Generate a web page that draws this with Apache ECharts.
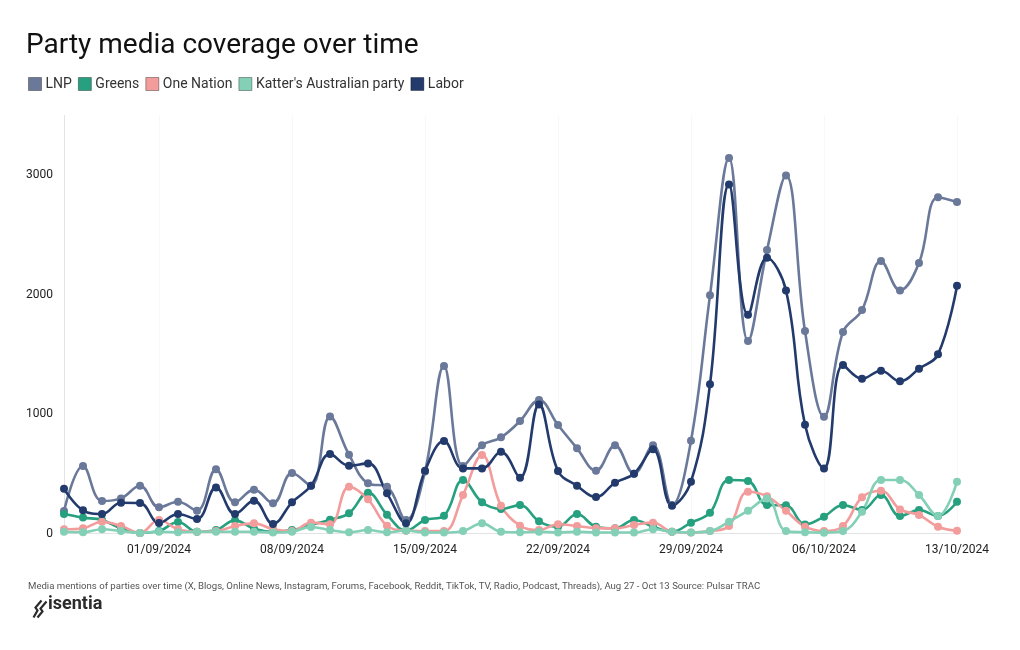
<!DOCTYPE html>
<html>
<head>
<meta charset="utf-8">
<script src="https://cdn.jsdelivr.net/npm/echarts@6/dist/echarts.min.js"></script>
<style>html,body{margin:0;padding:0;background:#fff}#c{width:1020px;height:650px}</style>
</head>
<body>
<div id="c"></div>
<script>
// Dates Aug 27 - Oct 13, 2024
const categories = ["27/08/2024","28/08/2024","29/08/2024","30/08/2024","31/08/2024","01/09/2024","02/09/2024","03/09/2024","04/09/2024","05/09/2024","06/09/2024","07/09/2024","08/09/2024","09/09/2024","10/09/2024","11/09/2024","12/09/2024","13/09/2024","14/09/2024","15/09/2024","16/09/2024","17/09/2024","18/09/2024","19/09/2024","20/09/2024","21/09/2024","22/09/2024","23/09/2024","24/09/2024","25/09/2024","26/09/2024","27/09/2024","28/09/2024","29/09/2024","30/09/2024","01/10/2024","02/10/2024","03/10/2024","04/10/2024","05/10/2024","06/10/2024","07/10/2024","08/10/2024","09/10/2024","10/10/2024","11/10/2024","12/10/2024","13/10/2024"];

const lnp = [188,565,272,294,400,219,266,191,537,261,367,253,506,400,980,660,420,392,113,520,1402,565,738,805,942,1117,908,713,525,738,501,738,238,777,1994,3145,1611,2373,2998,1695,978,1687,1871,2281,2035,2264,2816,2775];
const greens = [163,133,113,43,5,20,96,15,30,110,40,15,29,71,116,169,342,157,25,113,149,448,261,205,238,102,57,163,57,43,113,57,15,91,174,448,440,238,236,75,141,238,197,322,146,197,146,266];
const oneNation = [35,43,99,63,5,113,35,15,20,63,85,35,20,91,77,392,286,65,25,21,21,322,657,233,65,29,77,63,45,43,71,91,15,8,20,63,350,311,190,57,21,63,303,358,202,155,57,23];
const katter = [15,10,35,21,5,15,10,15,15,15,15,8,15,55,29,10,29,10,25,8,8,21,85,15,10,15,8,15,8,8,8,35,15,8,20,99,191,294,20,10,7,21,183,448,448,322,146,434];
const labor = [375,194,163,258,255,88,163,121,386,163,275,80,261,400,665,568,587,336,85,526,774,545,545,685,467,1081,523,400,305,425,501,705,233,434,1249,2923,1832,2309,2035,911,545,1410,1296,1363,1274,1380,1500,2074];

const yTicks = [0, 1000, 2000, 3000];

const seriesDefs = [
  {name: "LNP", data: lnp, color: "#6a7899"},
  {name: "Greens", data: greens, color: "#26a07f"},
  {name: "One Nation", data: oneNation, color: "#f39c9c"},
  {name: "Katter's Australian party", data: katter, color: "#83d0b7"},
  {name: "Labor", data: labor, color: "#233a6c"}
];

const chart = echarts.init(document.getElementById('c'), null, {renderer: 'canvas'});
const font = 'Roboto, "Noto Sans", sans-serif';
const labelEvery = (i) => i >= 5 && (i - 5) % 7 === 0;

chart.setOption({
  animation: false,
  backgroundColor: '#ffffff',
  textStyle: {fontFamily: font},
  title: {
    text: 'Party media coverage over time',
    left: 26, top: 32, padding: 0,
    textStyle: {fontSize: 28, fontWeight: 'normal', color: '#111', fontFamily: font}
  },
  legend: {
    left: 28, top: 77, padding: 0,
    icon: 'rect', itemWidth: 13, itemHeight: 13, itemGap: 6,
    textStyle: {fontSize: 14, color: '#333', fontFamily: font, padding: [0, 0, 0, -1]},
    data: seriesDefs.map(s => ({name: s.name, itemStyle: {color: s.color, borderColor: 'rgba(0,0,0,0.35)', borderWidth: 1}}))
  },
  grid: {left: 64, right: 63, top: 115.5, bottom: 116.5, containLabel: false},
  xAxis: {
    type: 'category',
    data: categories,
    boundaryGap: false,
    axisLine: {show: true, lineStyle: {color: '#e3e3e3'}},
    axisTick: {show: false},
    splitLine: {show: true, interval: labelEvery, lineStyle: {color: '#f8f8f8'}},
    axisLabel: {
      interval: labelEvery,
      color: '#222', fontSize: 12, margin: 10, fontFamily: font
    }
  },
  yAxis: {
    type: 'value',
    min: 0, max: 3500, interval: 1000,
    axisLine: {show: true, lineStyle: {color: '#e3e3e3'}},
    axisTick: {show: false},
    splitLine: {show: false},
    axisLabel: {
      color: '#222', fontSize: 12, margin: 11, fontFamily: font,
      showMaxLabel: false,
      formatter: (v) => yTicks.indexOf(v) >= 0 ? String(v) : ''
    }
  },
  series: seriesDefs.map(s => ({
    name: s.name,
    type: 'line',
    data: s.data,
    smooth: 0.4,
    symbol: 'circle',
    symbolSize: 8,
    showAllSymbol: true,
    lineStyle: {width: 2.6, color: s.color},
    itemStyle: {color: s.color},
    emphasis: {disabled: true}
  })),
  graphic: [
    {
      type: 'text', left: 28, top: 582,
      style: {
        text: 'Media mentions of parties over time (X, Blogs, Online News, Instagram, Forums, Facebook, Reddit, TikTok, TV, Radio, Podcast, Threads), Aug 27 - Oct 13 Source: Pulsar TRAC',
        fill: '#555', fontSize: 9.6, fontFamily: font
      }
    },
    {
      type: 'group', left: 31, top: 598,
      children: [
        {type: 'polyline', shape: {points: [[9,0],[3,7],[5,10],[1,17]]}, style: {stroke: '#2b2b2b', lineWidth: 2.2, fill: 'none'}},
        {type: 'polyline', shape: {points: [[14,1],[8,8],[10,11],[5,17]]}, style: {stroke: '#2b2b2b', lineWidth: 2.2, fill: 'none'}}
      ]
    },
    {
      type: 'text', left: 48, top: 595,
      style: {text: 'isentia', fill: '#2b2b2b', fontSize: 18, fontWeight: 'bold', fontFamily: font}
    }
  ]
});
</script>
</body>
</html>
